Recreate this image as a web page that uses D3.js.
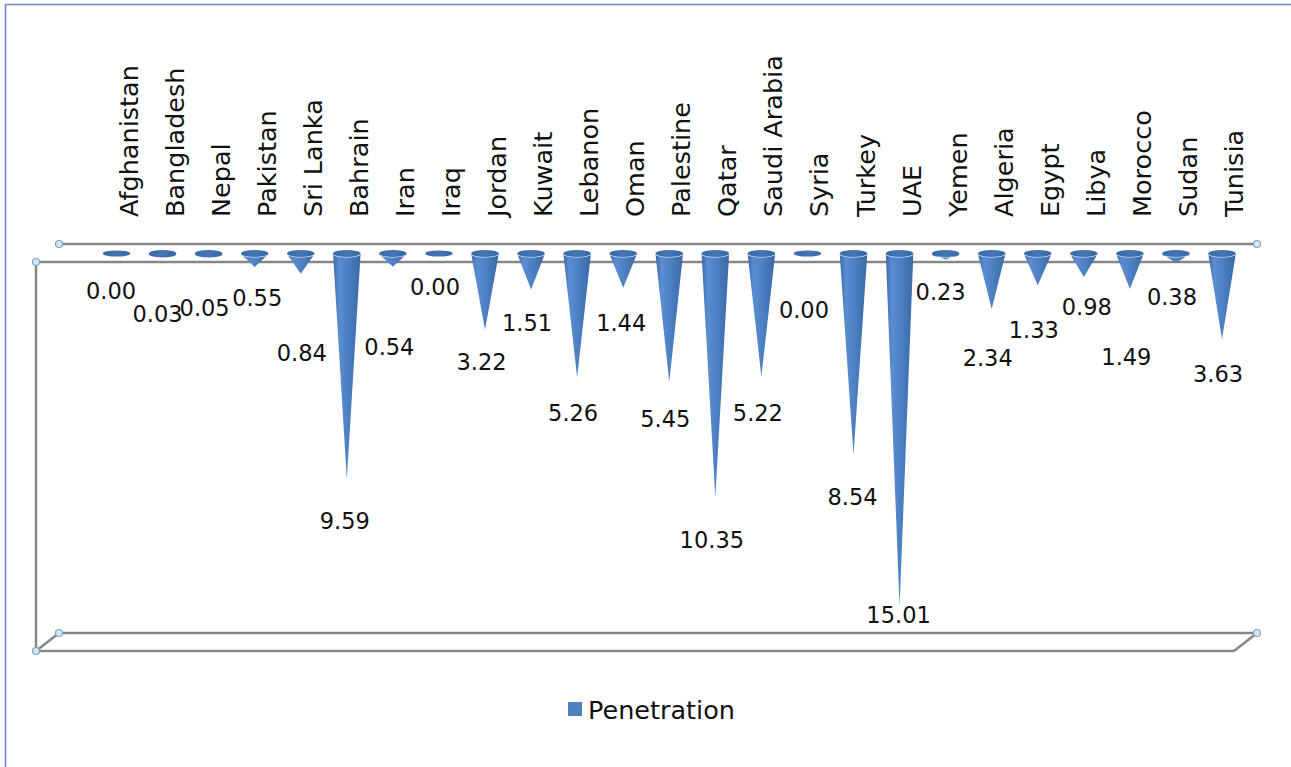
<!DOCTYPE html>
<html>
<head>
<meta charset="utf-8">
<script src="https://cdn.jsdelivr.net/npm/d3@7"></script>
<style>
  html, body { margin: 0; padding: 0; background: #ffffff; }
  svg { display: block; }
  text { font-family: "Century Gothic", "DejaVu Sans", sans-serif; fill: #111; }
</style>
</head>
<body>
<svg id="chart" width="1291" height="767"></svg>
<script>
// Internet penetration by country
const categories = [
  "Afghanistan", "Bangladesh", "Nepal", "Pakistan", "Sri Lanka", "Bahrain", "Iran", "Iraq",
  "Jordan", "Kuwait", "Lebanon", "Oman", "Palestine", "Qatar", "Saudi Arabia", "Syria",
  "Turkey", "UAE", "Yemen", "Algeria", "Egypt", "Libya", "Morocco", "Sudan", "Tunisia"
];
const penetration = [
  0.00, 0.03, 0.05, 0.55, 0.84, 9.59, 0.54, 0.00,
  3.22, 1.51, 5.26, 1.44, 5.45, 10.35, 5.22, 0.00,
  8.54, 15.01, 0.23, 2.34, 1.33, 0.98, 1.49, 0.38, 3.63
];
const seriesName = "Penetration";
const valueDomain = [0, 16];

// Per-label nudges so that neighbouring data labels do not collide
const labelNudgeX = [-2, -1.5, -0.5, 6, 4.5, 1.5, 0, -0.5, 0, -0.5, -0.5, 1.5, -0.5, 0, 0, 0, 2.5, 2.5, -1.5, -0.5, -0.5, 6.5, 0, -0.5, -0.5];
const labelNudgeY = [2, 24, 18, -4, 44, 7, 45, -2, -3, -1.5, 0, 0, 2, 8, 1, 21, 7, 0, -2, 14, 10, -5, 33, -1, 0];

const svg = d3.select("#chart");
const W = 1291, H = 767;

// Frame geometry (front plane and the depth offset of the back plane)
const frontLeft = 36, frontRight = 1234;
const depthX = 23, depthY = -18;
const frameTop = 262, frameBottom = 651;

// Scales: categories across, values grow downward from the zero plane
const x = d3.scalePoint().domain(categories).range([116.5, 1222]);
const y = d3.scaleLinear().domain(valueDomain).range([254, 254 + 16 * 23.5]);

const blue = "#4f81bd";
const defs = svg.append("defs");
const bodyGrad = defs.append("linearGradient").attr("id", "coneBody")
  .attr("x1", 0).attr("x2", 1).attr("y1", 0).attr("y2", 0);
[[0, "#3b6aa8"], [0.22, "#5a8ed0"], [0.55, "#4c80c2"], [1, "#3a68a5"]].forEach(([o, c]) =>
  bodyGrad.append("stop").attr("offset", o).attr("stop-color", c));
const topGrad = defs.append("linearGradient").attr("id", "coneTop")
  .attr("x1", 0).attr("x2", 1).attr("y1", 0).attr("y2", 0);
[[0, "#3a69a6"], [0.5, "#4474b4"], [1, "#3a68a5"]].forEach(([o, c]) =>
  topGrad.append("stop").attr("offset", o).attr("stop-color", c));

// Outer border (top and left edges)
svg.append("line").attr("x1", 5).attr("x2", W).attr("y1", 4.5).attr("y2", 4.5)
  .attr("stroke", "#6f86c6").attr("stroke-width", 1.6);
svg.append("line").attr("x1", 5.5).attr("x2", 5.5).attr("y1", 4).attr("y2", H)
  .attr("stroke", "#6f86c6").attr("stroke-width", 1.6);

// 3D frame lines
const frame = svg.append("g").attr("stroke", "#878787").attr("stroke-width", 2.5).attr("fill", "none");
const segs = [
  [frontLeft + depthX, frameTop + depthY, frontRight + depthX, frameTop + depthY],     // back top
  [frontLeft, frameTop, frontRight, frameTop],                                         // front top
  [frontLeft, frameTop, frontLeft, frameBottom],                                       // left front vertical
  [frontLeft + depthX, frameBottom + depthY, frontRight + depthX, frameBottom + depthY], // back bottom
  [frontLeft, frameBottom, frontRight, frameBottom],                                   // front bottom
  [frontLeft, frameBottom, frontLeft + depthX, frameBottom + depthY],                   // left depth edge
  [frontRight, frameBottom, frontRight + depthX, frameBottom + depthY]                  // right depth edge
];
frame.selectAll("line").data(segs).join("line")
  .attr("x1", d => d[0]).attr("y1", d => d[1]).attr("x2", d => d[2]).attr("y2", d => d[3]);

// Axis end handles
const handles = [
  [frontLeft + depthX, frameTop + depthY], [frontLeft, frameTop],
  [frontRight + depthX, frameTop + depthY],
  [frontLeft, frameBottom], [frontLeft + depthX, frameBottom + depthY],
  [frontRight + depthX, frameBottom + depthY]
];
svg.append("g").selectAll("circle").data(handles).join("circle")
  .attr("cx", d => d[0]).attr("cy", d => d[1]).attr("r", 3.5)
  .attr("fill", "#d4e6f2").attr("stroke", "#7fa6bf").attr("stroke-width", 1.2);

// Category labels, rotated
svg.append("g").selectAll("text").data(categories).join("text")
  .attr("transform", d => `translate(${x(d) + 12},217) rotate(-90)`)
  .attr("text-anchor", "start")
  .attr("dominant-baseline", "central")
  .style("font-size", "25.5px")
  .text(d => d);

// Inverted cones
const R = 13.75, RY = 3.6;
const data = categories.map((c, i) => ({ c, v: penetration[i], i }));
const cones = svg.append("g").selectAll("g").data(data).join("g");
cones.filter(d => d.v > 0).append("path")
  .attr("d", d => {
    const cx = x(d.c), y0 = y(0), tip = y(d.v);
    return `M${cx - R},${y0} L${cx},${tip} L${cx + R},${y0} A${R},${RY} 0 0 1 ${cx - R},${y0} Z`;
  })
  .attr("fill", "url(#coneBody)");
cones.append("ellipse")
  .attr("cx", d => x(d.c)).attr("cy", y(0) - 0.5)
  .attr("rx", R).attr("ry", d => d.v > 0 ? RY : 3.1)
  .attr("fill", "url(#coneTop)");

// Data labels, derived from the same values
const labelFloor = 615;
svg.append("g").selectAll("text").data(data).join("text")
  .attr("x", d => x(d.c) - 3.5 + labelNudgeX[d.i])
  .attr("y", d => Math.min(y(d.v) + 35 + labelNudgeY[d.i], labelFloor))
  .attr("text-anchor", "middle")
  .attr("dominant-baseline", "central")
  .style("font-size", "22.5px")
  .text(d => d.v.toFixed(2));

// Legend
const legend = svg.append("g").attr("transform", "translate(568,702)");
legend.append("rect").attr("width", 14).attr("height", 14).attr("fill", blue);
legend.append("text").attr("x", 20).attr("y", 8).attr("dominant-baseline", "central")
  .style("font-size", "25.5px").text(seriesName);
</script>
</body>
</html>
